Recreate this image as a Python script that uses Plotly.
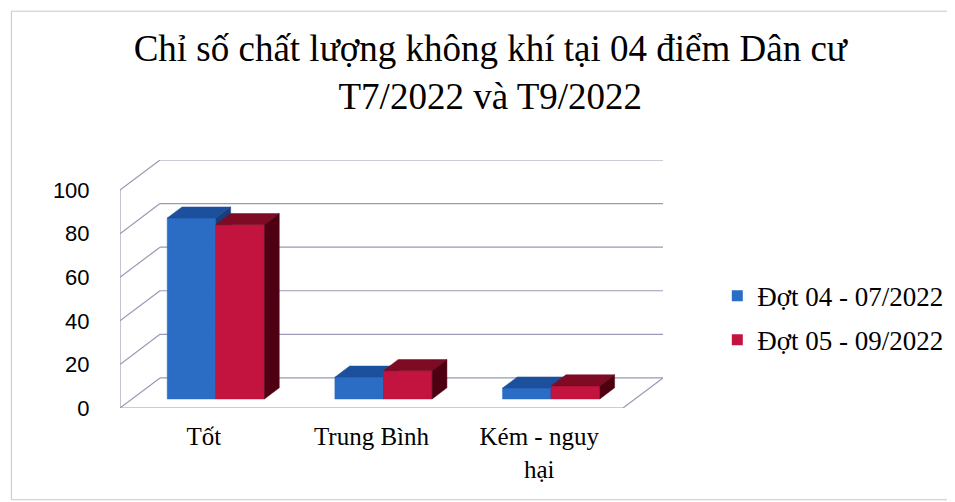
import plotly.graph_objects as go

# ---- data ----
categories = ["Tốt", "Trung Bình", "Kém - nguy<br>hại"]
series_names = ["Đợt 04 - 07/2022", "Đợt 05 - 09/2022"]
dot_04 = [83, 10, 5]
dot_05 = [80, 13, 6]
y_ticks = [0, 20, 40, 60, 80, 100]
title_text = "Chỉ số chất lượng không khí tại 04 điểm Dân cư<br>T7/2022 và T9/2022"

# ---- style / 3D projection parameters ----
D = 0.2385          # depth offset along x (category units)
DY = 13.8           # depth offset along y (value units)
F0 = 0.30           # depth fraction of bar front face
FD = 0.37           # depth fraction of bar thickness
W = 0.29            # bar width
GRID = "#9a9ab4"
front_cols = ["#2b6cc4", "#c2143f"]
top_cols = ["#1c4f9c", "#7e0a24"]
side_cols = ["#163f7e", "#4e0012"]

fig = go.Figure()

def line(xs, ys):
    fig.add_trace(go.Scatter(x=xs, y=ys, mode="lines", line=dict(color=GRID, width=1.2),
                             hoverinfo="skip", showlegend=False))

# walls / gridlines
for v in y_ticks:
    line([-0.5, -0.5 + D], [v, v + DY])
    line([-0.5 + D, 2.5 + D], [v + DY, v + DY])
line([-0.5, -0.5], [0, y_ticks[-1]])
line([-0.5, 2.5, 2.5 + D], [0, 0, DY])

def poly(xs, ys, color):
    fig.add_trace(go.Scatter(x=xs + [xs[0]], y=ys + [ys[0]], mode="lines", fill="toself",
                             fillcolor=color, line=dict(color=color, width=0.5),
                             hoverinfo="skip", showlegend=False))

series = [dot_04, dot_05]
for i, cat in enumerate(categories):
    for s, vals in enumerate(series):
        v = vals[i]
        xl = i + F0 * D - W + s * W
        xr = xl + W
        b = F0 * DY
        t = b + v
        dx, dy = FD * D, FD * DY
        poly([xl, xr, xr, xl], [b, b, t, t], front_cols[s])
        poly([xl, xr, xr + dx, xl + dx], [t, t, t + dy, t + dy], top_cols[s])
        poly([xr, xr + dx, xr + dx, xr], [b, b + dy, t + dy, t], side_cols[s])

# legend entries
for s, name in enumerate(series_names):
    fig.add_trace(go.Scatter(x=[None], y=[None], mode="markers", name=name,
                             legendgroup=name,
                             marker=dict(symbol="square", size=11, color=front_cols[s])))

fig.update_layout(
    width=955, height=502,
    margin=dict(l=112, r=300, t=152, b=102),
    paper_bgcolor="white", plot_bgcolor="rgba(0,0,0,0)",
    title=dict(text=title_text, x=0.505, xanchor="center", y=0.895, yanchor="top",
               yref="container",
               font=dict(family="Liberation Serif", size=37, color="black")),
    xaxis=dict(range=[-0.5, 2.5 + D], tickvals=list(range(len(categories))), ticktext=categories,
               showgrid=False, zeroline=False, showline=False, ticks="outside", ticklen=6,
               tickcolor="rgba(0,0,0,0)",
               tickfont=dict(family="Liberation Serif", size=25, color="black")),
    yaxis=dict(range=[0, 100 + DY], tickvals=y_ticks, showgrid=False, zeroline=False,
               showline=False, ticks="outside", ticklen=25, tickcolor="rgba(0,0,0,0)",
               tickfont=dict(family="Liberation Sans", size=22, color="black")),
    legend=dict(x=1.1, y=0.55, xanchor="left", yanchor="top", traceorder="grouped",
                tracegroupgap=6, itemwidth=30,
                font=dict(family="Liberation Serif", size=27, color="black")),
    showlegend=True,
    shapes=[dict(type="rect", xref="paper", yref="paper", x0=-0.2, x1=1.54, y0=-0.37, y1=1.6,
                 line=dict(color="#c8c8c8", width=1))],
)

fig.write_html("out.html")
